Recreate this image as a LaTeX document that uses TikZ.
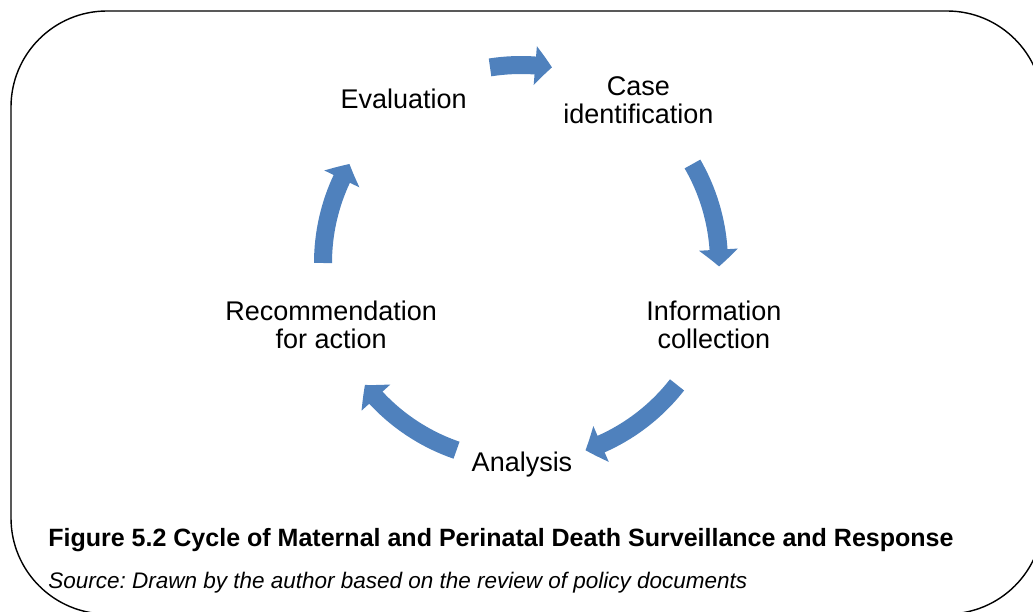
\documentclass[tikz,border=0pt]{standalone}
\usepackage{fontspec}
\setmainfont{Liberation Sans}
\usetikzlibrary{arrows.meta,bending}
\definecolor{cycblue}{RGB}{79,129,189}
\frenchspacing
\begin{document}
\begin{tikzpicture}[
            stage/.style={align=center, inner sep=0pt, font=\fontsize{19.2}{19.9}\selectfont},
            cyc/.style={draw=cycblue, line width=0.45cm, -{Triangle[width=0.95cm,length=0.42cm,bend]}},
            note/.style={anchor=base west, inner sep=0pt}
        ]
        \useasboundingbox (0,0) rectangle (25.825,15.3);
        \clip (0,0) rectangle (25.825,15.3);

        \draw[line width=1pt, rounded corners=2.4cm] (0.275,-0.05) rectangle (26.075,15.025);

        \coordinate (ctr) at (13.025,8.725);

        \node[stage, anchor=base] (eval) at (10.09,12.59) {Evaluation};
        \node[stage] (case) at (15.96,12.79) {Case\\identification};
        \node[stage] (info) at (17.85,7.19) {Information\\collection};
        \node[stage, anchor=base] (ana) at (13.05,3.5) {Analysis};
        \node[stage] (rec) at (8.28,7.19) {Recommendation\\for action};

        \draw[cyc] ([shift={(99:4.95)}]ctr) arc[start angle=99, end angle=81, radius=4.95];
        \draw[cyc] ([shift={(30:4.95)}]ctr) arc[start angle=30, end angle=-1, radius=4.95];
        \draw[cyc] ([shift={(-38:4.95)}]ctr) arc[start angle=-38, end angle=-71, radius=4.95];
        \draw[cyc] ([shift={(-109:4.95)}]ctr) arc[start angle=-109, end angle=-142, radius=4.95];
        \draw[cyc] ([shift={(180:4.95)}]ctr) arc[start angle=180, end angle=150, radius=4.95];

        \node[note, font=\fontsize{17.8}{20}\selectfont\bfseries] (cap) at (1.2,1.625)
            {Figure 5.2 Cycle of Maternal and Perinatal Death Surveillance and Response};
        \node[note, font=\fontsize{16}{18}\selectfont\itshape] (src) at (1.2,0.575)
            {Source: Drawn by the author based on the review of policy documents};
    \end{tikzpicture}
\end{document}
